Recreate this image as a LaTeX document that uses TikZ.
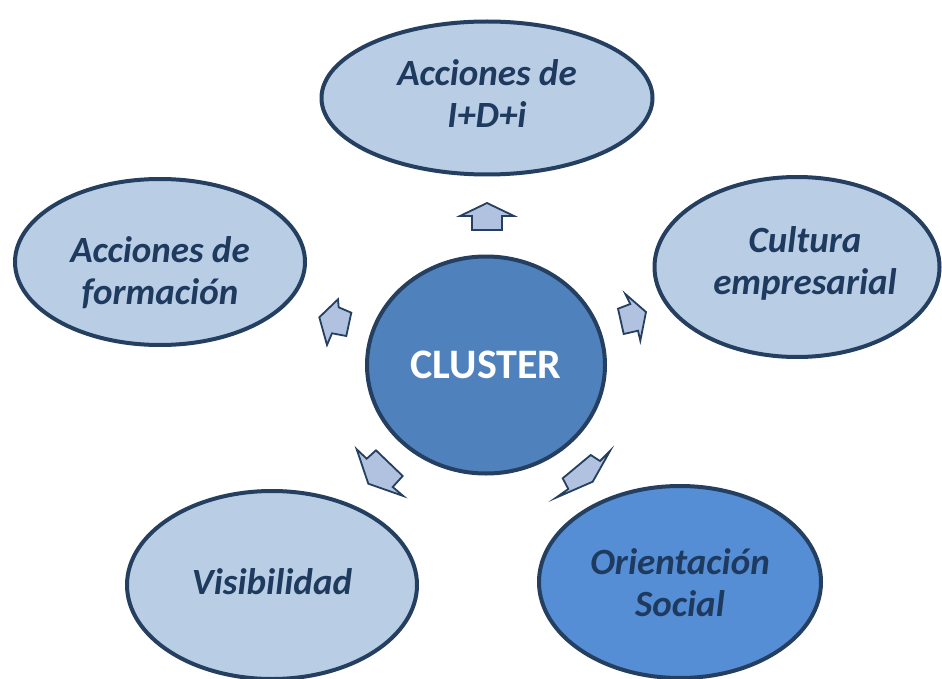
\documentclass[tikz,border=0pt]{standalone}
\usepackage{fontspec}
\setmainfont{Carlito}
\usetikzlibrary{shapes.geometric}
\definecolor{lightfill}{HTML}{B9CDE5}
\definecolor{darkline}{HTML}{243F60}
\definecolor{textcol}{HTML}{1F3A5F}
\definecolor{clusterfill}{HTML}{4F81BD}
\definecolor{socialfill}{HTML}{558ED5}
\definecolor{arrowfill}{HTML}{B0C2DF}
\begin{document}
\begin{tikzpicture}[x=1pt,y=-1pt,
  bubble/.style={ellipse, draw=darkline, line width=4pt, fill=lightfill, inner sep=0pt},
  bubbletext/.style={align=center, inner sep=0pt,
    font=\fontsize{37}{42}\selectfont\bfseries\itshape, text=textcol},
  hub/.style={ellipse, draw=darkline, line width=4pt, fill=clusterfill, inner sep=0pt,
    font=\fontsize{42}{48}\selectfont\bfseries, text=white},
  blockarrow/.style={draw=darkline, line width=1.8pt, fill=arrowfill, line join=miter}]
\useasboundingbox (0,0) rectangle (942,679);
\fill[white] (0,0) rectangle (942,679);

% outer bubbles
\node[bubble, minimum width=331pt, minimum height=153pt] (top) at (487,98) {};
\node[bubble, minimum width=290pt, minimum height=166pt] (left) at (160,262) {};
\node[bubble, minimum width=285pt, minimum height=180pt] (right) at (797,267) {};
\node[bubble, minimum width=290pt, minimum height=188pt] (bl) at (272,585) {};
\node[bubble, fill=socialfill, minimum width=282pt, minimum height=192pt] (br) at (680,582) {};

\node[bubbletext] (topT) at (487,94) {Acciones de\\I+D+i};
\node[bubbletext] (leftT) at (160,273) {Acciones de\\formación};
\node[bubbletext] (rightT) at (805,263) {Cultura\\empresarial};
\node[bubbletext] (blT) at (272,582) {Visibilidad};
\node[bubbletext] (brT) at (680,583) {Orientación\\Social};

% centre
\node[hub, minimum width=238pt, minimum height=217pt] (hub) at (486,365) {CLUSTER};

% block arrows
\draw[blockarrow] (487,203) -- (514,216) -- (502,216) -- (502,230) -- (472,230)
  -- (472,216) -- (460,216) -- cycle;
\draw[blockarrow] (319.3,317.3) -- (338,299.3) -- (338.7,307.3) -- (351.3,312.7)
  -- (346.3,336) -- (332,333.3) -- (327,345) -- cycle;
\draw[blockarrow] (646,312) -- (625.3,294) -- (630.3,304) -- (618,308.7)
  -- (623.7,334) -- (638,330.7) -- (640.3,340.7) -- cycle;
\draw[blockarrow] (368.3,483.7) -- (356.7,449.3) -- (366.7,458.7) -- (376,450.3)
  -- (402.7,476) -- (392.7,487) -- (403.3,496) -- cycle;
\draw[blockarrow] (592.7,481.7) -- (610,451) -- (600,461) -- (590.7,455)
  -- (562.7,478.3) -- (568.3,489) -- (556,497.7) -- cycle;
\end{tikzpicture}
\end{document}
